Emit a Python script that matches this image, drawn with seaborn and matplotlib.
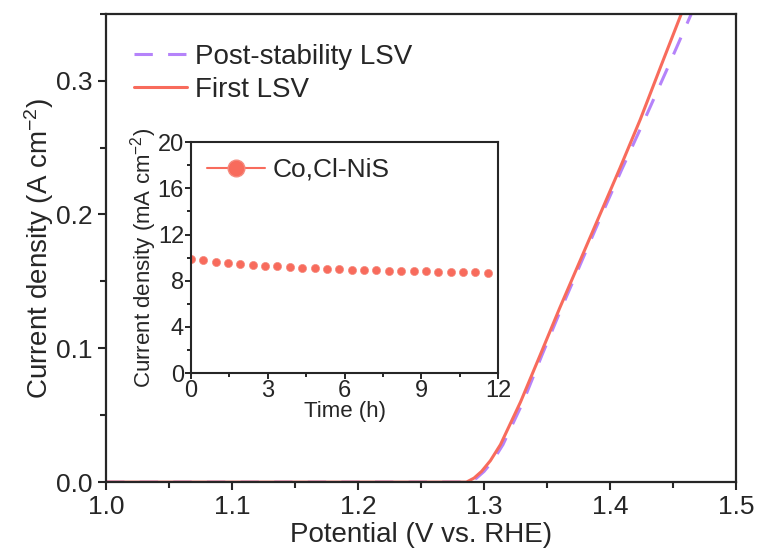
import numpy as np
import pandas as pd
import seaborn as sns
import matplotlib.pyplot as plt
from matplotlib.lines import Line2D
from matplotlib.ticker import MultipleLocator

# first LSV (V vs RHE, A cm-2)
first_v = [1.00, 1.10, 1.20, 1.250, 1.286, 1.292, 1.298, 1.305, 1.313, 1.329,
           1.345, 1.360, 1.376, 1.392, 1.408, 1.424, 1.440, 1.457]
first_j = [0.0, 0.0, 0.0, 0.0, 0.0, 0.003, 0.008, 0.016, 0.028, 0.060,
           0.096, 0.130, 0.165, 0.200, 0.235, 0.271, 0.310, 0.351]

# post-stability LSV
post_v = [1.00, 1.10, 1.20, 1.250, 1.288, 1.294, 1.300, 1.307, 1.315, 1.331,
          1.346, 1.361, 1.377, 1.393, 1.409, 1.426, 1.445, 1.465]
post_j = [0.0, 0.0, 0.0, 0.0, 0.0, 0.003, 0.008, 0.016, 0.028, 0.060,
          0.095, 0.129, 0.164, 0.199, 0.233, 0.268, 0.308, 0.351]

# inset: chronopotentiometry
time_h = [0.0, 0.48, 0.97, 1.45, 1.93, 2.42, 2.90, 3.38, 3.87, 4.35, 4.83, 5.32,
          5.80, 6.28, 6.77, 7.25, 7.73, 8.22, 8.70, 9.18, 9.67, 10.15, 10.63,
          11.12, 11.60]
cur_ma = [9.85, 9.80, 9.65, 9.55, 9.45, 9.38, 9.30, 9.25, 9.18, 9.12, 9.08, 9.03,
          8.98, 8.95, 8.92, 8.90, 8.88, 8.85, 8.83, 8.80, 8.78, 8.76, 8.74,
          8.71, 8.66]

red = '#F86B5C'
purple = '#B583FA'

sns.set_style('ticks')
plt.rcParams['font.family'] = ['Liberation Sans', 'DejaVu Sans']
plt.rcParams['mathtext.default'] = 'regular'

fig = plt.figure(figsize=(7.58, 5.51), dpi=100)
ax = fig.add_axes([0.140, 0.125, 0.831, 0.850])

sns.lineplot(x=post_v, y=post_j, ax=ax, color=purple, lw=2.2,
             linestyle=(0, (6, 5)), label='Post-stability LSV')
sns.lineplot(x=first_v, y=first_j, ax=ax, color=red, lw=2.2, label='First LSV')

ax.set_xlim(1.0, 1.5)
ax.set_ylim(0, 0.35)
ax.xaxis.set_major_locator(MultipleLocator(0.1))
ax.xaxis.set_minor_locator(MultipleLocator(0.05))
ax.yaxis.set_major_locator(MultipleLocator(0.1))
ax.yaxis.set_minor_locator(MultipleLocator(0.05))
ax.tick_params(which='both', direction='out', width=1.5, labelsize=19,
               top=False, right=False)
ax.tick_params(which='major', length=6)
ax.tick_params(which='minor', length=4)
for s in ax.spines.values():
    s.set_linewidth(1.6)
    s.set_visible(True)
ax.set_xlabel('Potential (V vs. RHE)', fontsize=20, labelpad=2)
ax.set_ylabel('Current density (A cm$^{-2}$)', fontsize=20, labelpad=0)
ax.legend(loc='upper left', bbox_to_anchor=(0.0, 0.995), frameon=False,
          fontsize=20, handlelength=1.9, handletextpad=0.3, labelspacing=0.25,
          borderaxespad=0.6)

# inset
ins = fig.add_axes([0.252, 0.323, 0.405, 0.419])
df = pd.DataFrame({'t': time_h, 'j': cur_ma})
sns.scatterplot(data=df, x='t', y='j', ax=ins, color=red, s=34,
                edgecolor='#F5897D', linewidth=0.5, legend=False)
ins.set_xlim(0, 12)
ins.set_ylim(0, 20)
ins.xaxis.set_major_locator(MultipleLocator(3))
ins.xaxis.set_minor_locator(MultipleLocator(1.5))
ins.yaxis.set_major_locator(MultipleLocator(4))
ins.yaxis.set_minor_locator(MultipleLocator(2))
ins.tick_params(which='both', direction='out', width=1.4, labelsize=17,
                top=False, right=False, pad=1)
ins.tick_params(which='major', length=4)
ins.tick_params(which='minor', length=3)
for s in ins.spines.values():
    s.set_linewidth(1.5)
    s.set_visible(True)
ins.set_xlabel('Time (h)', fontsize=16, labelpad=-1)
ins.set_ylabel('Current density (mA cm$^{-2}$)', fontsize=16, labelpad=-1)
h = Line2D([], [], color=red, lw=1.5, marker='o', markersize=12,
           markerfacecolor=red, markeredgecolor='#F5897D')
ins.legend([h], ['Co,Cl-NiS'], loc='upper left', frameon=False, fontsize=19,
           handlelength=2.2, handletextpad=0.3, borderaxespad=0.2)

fig.savefig('out.png', dpi=100)
